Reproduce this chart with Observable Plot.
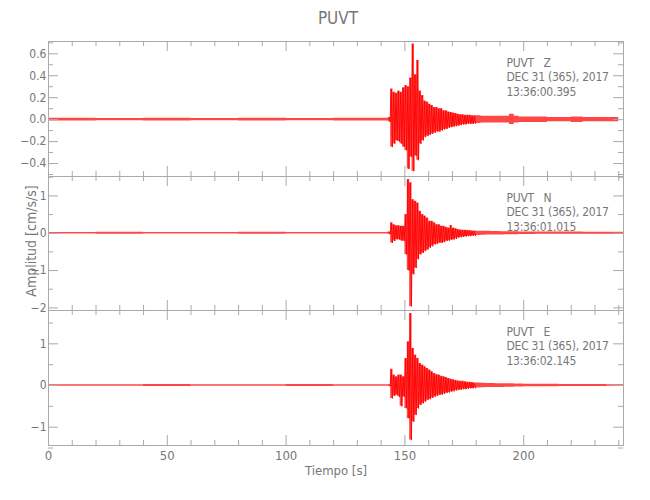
<!DOCTYPE html>
<html><head><meta charset="utf-8">
<script src="https://cdn.jsdelivr.net/npm/d3@7"></script>
<script src="https://cdn.jsdelivr.net/npm/@observablehq/plot@0.6"></script>
<style>
body{margin:0;background:#fff;}
#c{position:relative;width:650px;height:500px;font-family:"DejaVu Sans Condensed","DejaVu Sans",sans-serif;color:#777;overflow:hidden;}
.lbl{position:absolute;white-space:nowrap;line-height:1;}
.pan{position:absolute;left:0;}
svg.pan g[aria-label="text"] text{letter-spacing:-0.25px;}
</style></head><body><div id="c"></div>
<script>
// Time bins (s): start of each bin; the last bin ends at tFin
const tiempo = [0,20,40,60,80,100,120,
  143,144,145,146,147,148,149,150,151,152,153,154,155,156,157,158,159,160,161,162,163,164,165,166,167,168,169,170,171,172,173,174,175,176,177,178,179,
  180,182,184,186,188,190,192,194,196,198,
  200,205,210,215,220,225,230,235,
  240];
const tFin = 242;

// Envelope (max / min per bin), cm/s/s
const zMax = [0.012,0.01,0.012,0.01,0.012,0.01,0.012,
  0.02,0.28,0.25,0.24,0.26,0.25,0.29,0.31,0.30,0.38,0.69,0.41,0.54,0.26,0.22,0.17,0.16,0.14,0.13,0.11,0.11,0.10,0.10,0.08,0.08,0.07,0.065,0.06,0.055,0.05,0.045,0.045,0.04,0.04,0.04,0.035,0.035,
  0.035,0.03,0.03,0.03,0.03,0.03,0.03,0.05,0.03,0.025,
  0.025,0.025,0.02,0.02,0.025,0.02,0.02,0.02,
  null];
const zMin = [-0.012,-0.01,-0.012,-0.01,-0.012,-0.01,-0.012,
  -0.02,-0.25,-0.22,-0.19,-0.20,-0.22,-0.25,-0.28,-0.45,-0.34,-0.47,-0.33,-0.37,-0.22,-0.19,-0.16,-0.15,-0.14,-0.13,-0.12,-0.11,-0.11,-0.10,-0.09,-0.085,-0.075,-0.07,-0.065,-0.06,-0.055,-0.05,-0.045,-0.045,-0.04,-0.04,-0.04,-0.035,
  -0.035,-0.03,-0.03,-0.03,-0.03,-0.03,-0.03,-0.045,-0.03,-0.025,
  -0.025,-0.025,-0.02,-0.02,-0.025,-0.02,-0.02,-0.02,
  null];
const nMax = [0.02,0.025,0.02,0.02,0.025,0.02,0.02,
  0.03,0.28,0.23,0.20,0.20,0.19,0.19,0.50,1.44,1.35,0.90,0.86,0.81,0.59,0.50,0.46,0.41,0.32,0.32,0.28,0.23,0.23,0.19,0.19,0.16,0.14,0.21,0.14,0.12,0.10,0.09,0.08,0.08,0.07,0.07,0.06,0.06,
  0.055,0.05,0.05,0.045,0.045,0.04,0.04,0.04,0.04,0.035,
  0.035,0.03,0.03,0.03,0.03,0.025,0.025,0.025,
  0.025];
const nMin = [-0.02,-0.025,-0.02,-0.02,-0.025,-0.02,-0.02,
  -0.03,-0.26,-0.21,-0.17,-0.17,-0.20,-0.21,-0.57,-1.00,-1.96,-1.10,-0.93,-0.70,-0.57,-0.53,-0.48,-0.44,-0.39,-0.35,-0.30,-0.29,-0.26,-0.26,-0.24,-0.21,-0.20,-0.18,-0.17,-0.15,-0.12,-0.11,-0.10,-0.09,-0.08,-0.08,-0.07,-0.07,
  -0.06,-0.055,-0.05,-0.05,-0.045,-0.045,-0.04,-0.04,-0.04,-0.035,
  -0.035,-0.03,-0.03,-0.03,-0.03,-0.025,-0.025,-0.025,
  -0.025];
const eMax = [0.02,0.02,0.025,0.02,0.02,0.025,0.02,
  0.02,0.39,0.25,0.21,0.25,0.25,0.21,0.65,1.05,1.73,0.89,0.73,0.65,0.53,0.49,0.45,0.41,0.37,0.33,0.29,0.26,0.25,0.22,0.21,0.19,0.17,0.15,0.14,0.12,0.11,0.10,0.10,0.09,0.08,0.08,0.07,0.06,
  0.06,0.055,0.05,0.05,0.045,0.045,0.04,0.04,0.035,0.035,
  0.03,0.03,0.03,0.025,0.025,0.025,0.025,0.02,
  0.02];
const eMin = [-0.02,-0.02,-0.025,-0.02,-0.02,-0.025,-0.02,
  -0.02,-0.31,-0.25,-0.23,-0.27,-0.50,-0.27,-0.55,-0.79,-1.31,-0.87,-0.71,-0.55,-0.47,-0.43,-0.39,-0.35,-0.33,-0.30,-0.27,-0.25,-0.23,-0.22,-0.20,-0.18,-0.17,-0.15,-0.14,-0.12,-0.11,-0.10,-0.09,-0.09,-0.08,-0.07,-0.07,-0.06,
  -0.06,-0.055,-0.05,-0.05,-0.045,-0.045,-0.04,-0.04,-0.035,-0.035,
  -0.03,-0.03,-0.03,-0.025,-0.025,-0.025,-0.025,-0.02,
  -0.02];

// Axis ticks and labels
const xMayor = [0,50,100,150,200];
const xMenor = [10,20,30,40,60,70,80,90,110,120,130,140,160,170,180,190,210,220,230,240];
const yEtiqZ = [-0.4,-0.2,0,0.2,0.4,0.6];
const yMenorZ = [-0.5,-0.3,-0.1,0.1,0.3,0.5,0.7];
const yEtiqN = [-2,-1,0,1];
const yMenorN = [-1.5,-0.5,0.5,1.5];
const yEtiqE = [-1,0,1];
const yMenorE = [-1.5,-0.5,0.5,1.5];
const domZ = [-0.518,0.712], domN = [-2.07,1.52], domE = [-1.44,1.80];
const textoZ = ["PUVT   Z","DEC 31 (365), 2017","13:36:00.395"];
const textoN = ["PUVT   N","DEC 31 (365), 2017","13:36:01.015"];
const textoE = ["PUVT   E","DEC 31 (365), 2017","13:36:02.145"];
const titulo = "PUVT", etiqY = "Amplitud [cm/s/s]", etiqX = "Tiempo [s]";

const AX = "#aaaaaa", TX = "#777777", FONT = '"DejaVu Sans Condensed","DejaVu Sans",sans-serif';
const W = 650, ML = 48, MR = 27, IW = W - ML - MR;

// envelope band: each bin drawn over its full width
function bandas(max, min){
  const rows = [];
  for (let i = 0; i < tiempo.length; i++){
    const t0 = tiempo[i], t1 = i + 1 < tiempo.length ? tiempo[i+1] : tFin;
    if (max[i] == null){ rows.push({t:t0, lo:NaN, hi:NaN}); continue; }
    rows.push({t:t0, lo:min[i], hi:max[i]});
    rows.push({t:t1, lo:min[i], hi:max[i]});
  }
  return rows;
}
// trace in the 1-s bins of the strong motion: one swing per bin, max then min
function traza(max, min){
  const rows = [];
  for (let i = 0; i < tiempo.length; i++){
    const t0 = tiempo[i], t1 = i + 1 < tiempo.length ? tiempo[i+1] : tFin;
    if (max[i] == null || t1 - t0 > 1){ rows.push({t:t0, v:NaN}); continue; }
    rows.push({t:t0 + (t1 - t0) * 0.25, v:max[i]});
    rows.push({t:t0 + (t1 - t0) * 0.75, v:min[i]});
  }
  return rows;
}

function panel({max, min, dom, etiq, menor, fmt, texto, h, top, mb, xlab}){
  const mt = 10;
  const marks = [
    Plot.areaY(bandas(max, min), {x:"t", y1:"lo", y2:"hi", fill:"#ff0000", fillOpacity:0.72, curve:"linear"}),
    Plot.lineY(traza(max, min), {x:"t", y:"v", stroke:"#ff0000", strokeWidth:0.9, curve:"linear"}),
    Plot.frame({stroke:AX}),
    Plot.tickY(etiq, {y:d=>d, stroke:AX, insetRight:IW-10}),
    Plot.tickY(etiq, {y:d=>d, stroke:AX, insetLeft:IW-10}),
    Plot.tickY(menor, {y:d=>d, stroke:AX, insetRight:IW-5}),
    Plot.tickY(menor, {y:d=>d, stroke:AX, insetLeft:IW-5}),
    Plot.tickX(xMayor, {x:d=>d, stroke:AX, insetTop:h-10}),
    Plot.tickX(xMayor, {x:d=>d, stroke:AX, insetBottom:h-10}),
    Plot.tickX(xMenor, {x:d=>d, stroke:AX, insetTop:h-5}),
    Plot.tickX(xMenor, {x:d=>d, stroke:AX, insetBottom:h-5}),
    Plot.axisY({ticks:etiq, tickSize:0, tickPadding:2, tickFormat:fmt, fontSize:12, label:null}),
    Plot.text([texto.join("\n")], {text:d=>d, frameAnchor:"top-left", dx:458, dy:15, lineAnchor:"top", textAnchor:"start", fontSize:12, lineHeight:1.2, fill:TX})
  ];
  if (xlab) marks.push(Plot.axisX({ticks:xMayor, tickSize:0, tickPadding:5, fontSize:13, tickFormat:d3.format("d"), label:null}));
  const svg = Plot.plot({
    width: W, height: mt + h + mb,
    marginLeft: ML, marginRight: MR, marginTop: mt, marginBottom: mb,
    x: {domain:[0, 242], axis: xlab ? undefined : null, label:null},
    y: {domain: dom, label:null},
    style: {background:"transparent", color:TX, fontFamily:FONT, overflow:"visible"},
    marks
  });
  svg.classList.add("pan");
  svg.style.top = (top - mt) + "px";
  svg.style.position = "absolute";
  return svg;
}

const c = document.getElementById("c");
c.append(panel({max:zMax, min:zMin, dom:domZ, etiq:yEtiqZ, menor:yMenorZ, fmt:d3.format(".1f"), texto:textoZ, h:135, top:41, mb:5}));
c.append(panel({max:nMax, min:nMin, dom:domN, etiq:yEtiqN, menor:yMenorN, fmt:d3.format("d"), texto:textoN, h:134, top:176, mb:5}));
c.append(panel({max:eMax, min:eMin, dom:domE, etiq:yEtiqE, menor:yMenorE, fmt:d3.format("d"), texto:textoE, h:135, top:310, mb:40, xlab:true}));

function lbl(txt, css){ const d = document.createElement("div"); d.className = "lbl"; d.textContent = txt; Object.assign(d.style, css); c.append(d); return d; }
lbl(titulo, {left:"338px", top:"18px", transform:"translate(-50%,-50%)", fontSize:"17px"});
lbl(etiqX, {left:"336px", top:"470px", transform:"translate(-50%,-50%)", fontSize:"13px"});
lbl(etiqY, {left:"31px", top:"241px", transform:"translate(-50%,-50%) rotate(-90deg)", fontSize:"14px"});
</script></body></html>
